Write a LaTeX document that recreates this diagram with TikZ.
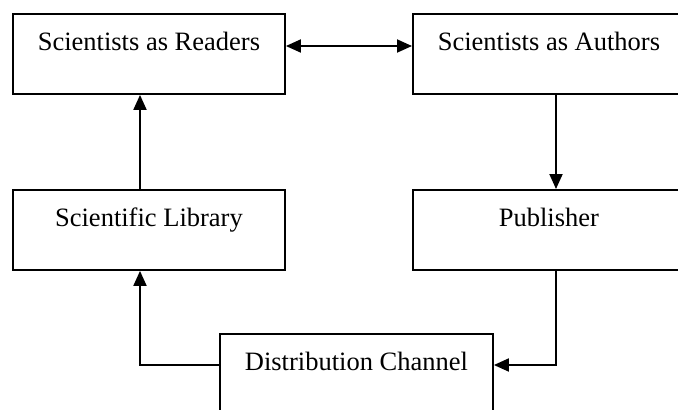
\documentclass[tikz,border=0pt]{standalone}
\usepackage{fontspec}
\setmainfont{Liberation Serif}
\usetikzlibrary{arrows.meta}
\begin{document}
\begin{tikzpicture}[x=1pt,y=-1pt,
  boxnode/.style={draw=black, line width=1.9pt, rectangle, inner sep=0pt,
    minimum width=272pt, text height=37pt, text depth=43pt, anchor=north west,
    font=\fontsize{26.5}{30}\selectfont},
  conn/.style={draw=black, line width=1.9pt},
  tip/.style={-{Triangle[length=15pt,width=13pt]}}]
\clip (0,0) rectangle (678,410);
\useasboundingbox (0,0) rectangle (678,410);
\fill[white] (0,0) rectangle (678,410);
\node[boxnode] (readers) at (12,13) {Scientists as Readers};
\node[boxnode] (authors) at (412,13) {Scientists as Authors};
\node[boxnode] (library) at (12,189) {Scientific Library};
\node[boxnode] (publisher) at (412,189) {Publisher};
\node[boxnode, minimum width=273pt] (dist) at (219,333) {Distribution Channel};
\draw[conn, {Triangle[length=15pt,width=13pt]}-{Triangle[length=15pt,width=13pt]}]
  (readers.east |- 0,46) -- (authors.west |- 0,46);
\draw[conn, tip] (library.north -| 140,0) -- (readers.south -| 140,0);
\draw[conn, tip] (authors.south -| 556,0) -- (publisher.north -| 556,0);
\draw[conn, tip] (publisher.south -| 556,0) -- (556,365) -- (dist.east |- 0,365);
\draw[conn, tip] (dist.west |- 0,365) -- (140,365) -- (library.south -| 140,0);
\end{tikzpicture}
\end{document}
